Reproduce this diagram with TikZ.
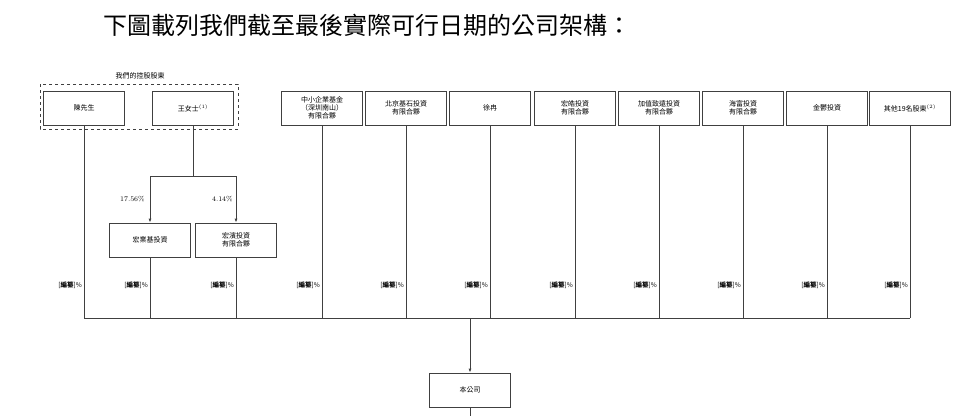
\documentclass[tikz,border=0pt]{standalone}
\usepackage{fontspec}
\newfontfamily\cjk{Noto Sans CJK TC}
\usetikzlibrary{positioning,arrows.meta}
\begin{document}
\begin{tikzpicture}[x=1pt,y=-1pt,
  box/.style={draw,thick,draw=black!75,minimum width=81pt,minimum height=34pt,align=center,font=\cjk\fontsize{7}{8}\selectfont,inner sep=1pt},
  pct/.style={font=\cjk\fontsize{6.5}{7.5}\selectfont,anchor=east,inner sep=1pt},
  lnk/.style={draw=black!75,thick},
  arr/.style={lnk,-{Latex[length=4pt,width=3pt]}}]
  \useasboundingbox (0,0) rectangle (960,416);
  \node[font=\cjk\fontsize{24}{26}\selectfont] (title) at (367,25) {下圖載列我們截至最後實際可行日期的公司架構：};

  % controlling shareholders
  \draw[dashed,thick,black!75] (40,84) rectangle (238,129);
  \node[font=\cjk\fontsize{7}{8}\selectfont] (ctrl) at (140,76) {我們的控股股東};
  \node[box] (chen) at (84,108) {陳先生};
  \node[box] (wang) at (193,108) {王女士$^{\scriptscriptstyle(1)}$};

  % other shareholders
  \node[box] (zx) at (322,108) {中小企業基金\\（深圳南山）\\有限合夥};
  \node[box] (bj) at (406,108) {北京基石投資\\有限合夥};
  \node[box] (xr) at (490,108) {徐冉};
  \node[box] (hh) at (575,108) {宏皓投資\\有限合夥};
  \node[box] (jz) at (659,108) {加值致遠投資\\有限合夥};
  \node[box] (hf) at (743,108) {海富投資\\有限合夥};
  \node[box] (jy) at (827,108) {金鬱投資};
  \node[box] (qt) at (910,108) {其他19名股東$^{\scriptscriptstyle(2)}$};

  % vehicles of Ms Wang
  \node[box] (hy) at (150,240) {宏業基投資};
  \node[box] (hb) at (236,240) {宏濱投資\\有限合夥};
  \coordinate (split) at (193,176);
  \draw[lnk] (wang) -- (split);
  \draw[arr] (split) -| (hy);
  \draw[arr] (split) -| (hb);
  \node[pct,font=\fontsize{7}{8}\selectfont] (p1) at (146,199) {17.56\%};
  \node[pct,font=\fontsize{7}{8}\selectfont] (p2) at (234,199) {4.14\%};

  % common bus
  \coordinate (busl) at (84,318);
  \coordinate (busr) at (910,318);
  \draw[lnk] (busl) -- (busr);
  \foreach \n in {chen,hy,hb,zx,bj,xr,hh,jz,hf,jy,qt}{
    \draw[lnk] (\n.south) -- (\n.south |- busl);
    \node[pct] at ([xshift=-1pt]\n.south |- 0,285) {[\textbf{編纂}]\%};
  }

  % the company
  \node[box] (co) at (470,390) {本公司};
  \coordinate (top) at (470,318);
  \coordinate (below) at (470,416);
  \draw[arr] (top) -- (co);
  \draw[lnk] (co) -- (below);
\end{tikzpicture}
\end{document}
